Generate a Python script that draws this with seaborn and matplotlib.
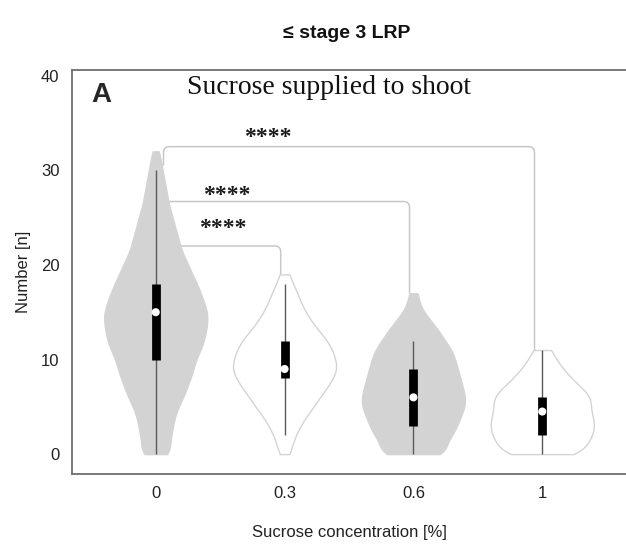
import numpy as np
import pandas as pd
import matplotlib
matplotlib.use("Agg")
import matplotlib.pyplot as plt
from matplotlib.path import Path
from matplotlib.patches import PathPatch
import seaborn as sns

# Sucrose concentrations (x categories)
concentrations = ["0", "0.3", "0.6", "1"]

# Observed lateral-root-primordia counts per plant, tabulated as value -> frequency
values_0 = list(range(0, 33))
counts_0 = [9, 8, 9, 10, 11, 13, 16, 18, 20, 22, 23, 26, 28, 29, 30, 30, 28, 26,
            24, 21, 19, 16, 14, 13, 11, 10, 8, 7, 6, 5, 4, 3, 2]

values_03 = list(range(0, 20))
counts_03 = [2, 3, 4, 6, 8, 11, 13, 16, 18, 20, 19, 18, 16, 13, 10, 8, 6, 5, 3, 2]

values_06 = list(range(0, 18))
counts_06 = [14, 12, 15, 17, 18, 20, 20, 19, 18, 17, 16, 15, 12, 10, 7, 4, 2, 2]

values_1 = list(range(0, 12))
counts_1 = [15, 17, 19, 20, 19, 18, 19, 15, 11, 8, 5, 4]

# Box summaries drawn inside each violin
q1 = [10, 8, 3, 2]
median = [15, 9, 6, 4.5]
q3 = [18, 12, 9, 6]
whisker_low = [0, 2, 0, 0]
whisker_high = [30, 18, 12, 11]

# Pairwise comparisons against the 0 % control
comparisons = [("0", "0.3"), ("0", "0.6"), ("0", "1")]
significance = ["****", "****", "****"]

fills = ["#d3d3d3", "#ffffff", "#d3d3d3", "#ffffff"]

groups = [(values_0, counts_0), (values_03, counts_03),
          (values_06, counts_06), (values_1, counts_1)]
frames = []
for conc, (vals, cnts) in zip(concentrations, groups):
    frames.append(pd.DataFrame({"conc": conc, "n": np.repeat(vals, cnts)}))
df = pd.concat(frames, ignore_index=True)

sns.set_style("white")
plt.rcParams["font.family"] = ["Liberation Sans Narrow", "Liberation Sans", "DejaVu Sans"]

fig = plt.figure(figsize=(6.26, 5.51), dpi=100)
ax = fig.add_axes([72 / 626, 1 - 474 / 551, (626 - 72) / 626, (474 - 70) / 551])

sns.violinplot(
    data=df, x="conc", y="n", hue="conc", order=concentrations,
    hue_order=concentrations, palette=fills, saturation=1, inner=None,
    cut=0, density_norm="width", width=0.8, linewidth=1.0,
    linecolor="#d4d4d4", legend=False, ax=ax,
    bw_method=lambda k: 0.8 / k.dataset.std(ddof=1),
)
for coll in ax.collections:
    coll.set_zorder(2)

pos = np.arange(len(concentrations))
ax.vlines(pos, whisker_low, whisker_high, color="#5a5a5a", lw=1.0, zorder=3)
ax.vlines(pos, q1, q3, color="black", lw=6.3, zorder=4)
ax.scatter(pos, median, s=34, color="white", edgecolor="none", zorder=5)


def bracket(x0, x1, h, left_end, right_end, rx=0.045, ry=0.65):
    verts, codes = [], []
    if left_end < h:
        verts += [(x0, left_end), (x0, h - ry), (x0, h), (x0 + rx, h)]
        codes += [Path.MOVETO, Path.LINETO, Path.CURVE3, Path.CURVE3]
    else:
        verts += [(x0, h)]
        codes += [Path.MOVETO]
    verts += [(x1 - rx, h), (x1, h), (x1, h - ry), (x1, right_end)]
    codes += [Path.LINETO, Path.CURVE3, Path.CURVE3, Path.LINETO]
    ax.add_patch(PathPatch(Path(verts, codes), fill=False, ec="#c8c8c8",
                           lw=1.1, zorder=1))


group_max = {c: max(v) for c, (v, _) in zip(concentrations, groups)}
bracket_layout = [  # (left offset, right offset, height, left leg end, star x, star y)
    (0.0, -0.03, 22.0, 22.0, 0.517, 23.8),
    (0.055, -0.03, 26.7, 24.0, 0.548, 27.3),
    (0.06, -0.06, 32.5, 30.5, 0.87, 33.5),
]
for (a, b), lab, (lo, ro, h, le, sx, sy) in zip(comparisons, significance, bracket_layout):
    xa = concentrations.index(a) + lo
    xb = concentrations.index(b) + ro
    bracket(xa, xb, h, le, group_max[b])
    ax.text(sx, sy, lab, ha="center", va="center", fontsize=17, fontweight="bold",
            family=["Liberation Serif", "DejaVu Serif"], color="#1a1a1a")

ax.set_xlim(-0.65, 3.65)
ax.set_ylim(-2.1, 40.6)
ax.set_yticks([0, 10, 20, 30, 40])
ax.set_xticks(pos)
ax.set_xticklabels(concentrations)
ax.set_xlabel("Sucrose concentration [%]", fontsize=12, color="#222222", labelpad=17)
ax.set_ylabel("Number [n]", fontsize=12, color="#222222", labelpad=7)

for side in ["left", "bottom", "top"]:
    ax.spines[side].set_color("#6e6e6e")
    ax.spines[side].set_linewidth(1.3)
ax.spines["right"].set_visible(False)
ax.tick_params(axis="both", direction="out", length=5, width=1, color="#6e6e6e",
               labelsize=12, labelcolor="#222222", pad=4)

ax.text(0.0356, 0.920, "A", transform=ax.transAxes, fontsize=20, fontweight="bold",
        family=["Liberation Sans", "DejaVu Sans"], ha="left", va="baseline")
ax.text(0.464, 0.9406, "Sucrose supplied to shoot", transform=ax.transAxes,
        fontsize=20, family=["Liberation Serif", "DejaVu Serif"], ha="center",
        va="baseline", color="#111111")

fig.text(347 / 626, 1 - 38 / 551, "≤ stage 3 LRP", fontsize=14, fontweight="bold",
         ha="center", va="baseline", color="#111111")

fig.savefig("out.png", dpi=100)
